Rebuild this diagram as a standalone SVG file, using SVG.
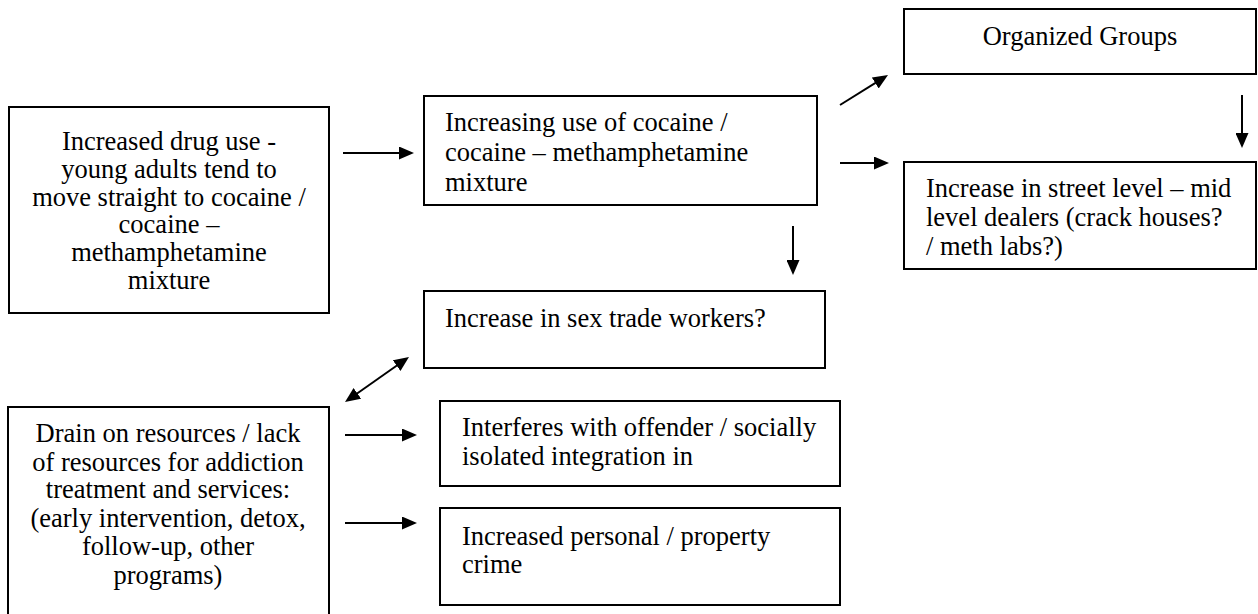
<svg xmlns="http://www.w3.org/2000/svg" width="1258" height="614" viewBox="0 0 1258 614">
<style>
.box{fill:#fff;stroke:#000;stroke-width:2}
.ln{stroke:#000;stroke-width:2;fill:none}
</style>
<defs>
<marker id="ah" markerUnits="userSpaceOnUse" markerWidth="15" markerHeight="13" refX="5" refY="6.5" orient="auto-start-reverse">
<path d="M0,0 L15,6.5 L0,13 z" fill="#000"/>
</marker>
</defs>
<rect width="1258" height="614" fill="#fff"/>
<g id="n-drug">
<rect class="box" x="9" y="107" width="320" height="206"/>
<text font-family="Liberation Serif" font-size="26.5" text-anchor="middle" x="169" y="150">Increased drug use -</text>
<text font-family="Liberation Serif" font-size="26.5" text-anchor="middle" x="169" y="178">young adults tend to</text>
<text font-family="Liberation Serif" font-size="26.5" text-anchor="middle" x="169" y="206">move straight to cocaine /</text>
<text font-family="Liberation Serif" font-size="26.5" text-anchor="middle" x="169" y="233">cocaine –</text>
<text font-family="Liberation Serif" font-size="26.5" text-anchor="middle" x="169" y="261">methamphetamine</text>
<text font-family="Liberation Serif" font-size="26.5" text-anchor="middle" x="169" y="289">mixture</text>
</g>
<g id="n-cocaine">
<rect class="box" x="424" y="96" width="393" height="109"/>
<text font-family="Liberation Serif" font-size="26.5" x="445" y="131">Increasing use of cocaine /</text>
<text font-family="Liberation Serif" font-size="26.5" x="445" y="161">cocaine – methamphetamine</text>
<text font-family="Liberation Serif" font-size="26.5" x="445" y="191">mixture</text>
</g>
<g id="n-sex">
<rect class="box" x="424" y="291" width="401" height="77"/>
<text font-family="Liberation Serif" font-size="26.5" x="445" y="327">Increase in sex trade workers?</text>
</g>
<g id="n-org">
<rect class="box" x="904" y="9" width="352" height="65"/>
<text font-family="Liberation Serif" font-size="26.5" text-anchor="middle" x="1080" y="45">Organized Groups</text>
</g>
<g id="n-street">
<rect class="box" x="904" y="162" width="352" height="107"/>
<text font-family="Liberation Serif" font-size="26.5" x="926" y="197">Increase in street level – mid</text>
<text font-family="Liberation Serif" font-size="26.5" x="926" y="226">level dealers (crack houses?</text>
<text font-family="Liberation Serif" font-size="26.5" x="926" y="255">/ meth labs?)</text>
</g>
<g id="n-interferes">
<rect class="box" x="440" y="401" width="400" height="85"/>
<text font-family="Liberation Serif" font-size="26.5" x="462" y="436">Interferes with offender / socially</text>
<text font-family="Liberation Serif" font-size="26.5" x="462" y="465">isolated integration in</text>
</g>
<g id="n-crime">
<rect class="box" x="440" y="508" width="400" height="97"/>
<text font-family="Liberation Serif" font-size="26.5" x="462" y="545">Increased personal / property</text>
<text font-family="Liberation Serif" font-size="26.5" x="462" y="573">crime</text>
</g>
<g id="n-drain">
<rect class="box" x="8" y="407" width="321" height="220"/>
<text font-family="Liberation Serif" font-size="26.5" text-anchor="middle" x="168" y="442">Drain on resources / lack</text>
<text font-family="Liberation Serif" font-size="26.5" text-anchor="middle" x="168" y="471">of resources for addiction</text>
<text font-family="Liberation Serif" font-size="26.5" text-anchor="middle" x="168" y="498">treatment and services:</text>
<text font-family="Liberation Serif" font-size="26.5" text-anchor="middle" x="168" y="527">(early intervention, detox,</text>
<text font-family="Liberation Serif" font-size="26.5" text-anchor="middle" x="168" y="555">follow-up, other</text>
<text font-family="Liberation Serif" font-size="26.5" text-anchor="middle" x="168" y="584">programs)</text>
</g>
<g id="connectors">
<line class="ln" x1="343" y1="153" x2="404" y2="153" marker-end="url(#ah)"/>
<line class="ln" x1="793" y1="226" x2="793" y2="265" marker-end="url(#ah)"/>
<line class="ln" x1="840" y1="105" x2="879.5" y2="80.3" marker-end="url(#ah)"/>
<line class="ln" x1="840" y1="163" x2="879" y2="163" marker-end="url(#ah)"/>
<line class="ln" x1="1242" y1="95" x2="1242" y2="138" marker-end="url(#ah)"/>
<line class="ln" x1="353.2" y1="396.2" x2="400.8" y2="362.8" marker-start="url(#ah)" marker-end="url(#ah)"/>
<line class="ln" x1="345" y1="435" x2="407" y2="435" marker-end="url(#ah)"/>
<line class="ln" x1="345" y1="523" x2="407" y2="523" marker-end="url(#ah)"/>
</g>
</svg>
